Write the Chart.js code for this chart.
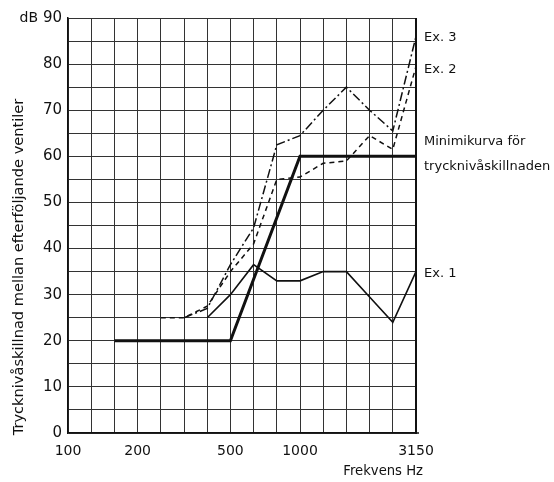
<!DOCTYPE html>
<html>
<head>
<meta charset="utf-8">
<script src="https://cdn.jsdelivr.net/npm/chart.js@4/dist/chart.umd.min.js"></script>
<style>
  html, body { margin: 0; padding: 0; background: #fff; }
  #wrap { width: 554px; height: 482px; position: relative; }
</style>
</head>
<body>
<div id="wrap"><canvas id="c" width="554" height="482"></canvas></div>
<script>
// Third-octave band centre frequencies (Hz)
const bands = ['100','125','160','200','250','315','400','500','630','800','1000','1250','1600','2000','2500','3150'];
// Bands that carry a printed frequency label
const labelledBands = ['100','200','500','1000','3150'];

// Pressure level difference between successive valves (dB)
const minimumCurve = [null, null, 20, 20, 20, 20, 20, 20, null, null, 60, 60, 60, 60, 60, 60];
const example1 = [null, null, null, null, null, null, 25, 30, 36.5, 33, 33, 35, 35, 29.5, 24, 35];
const example2 = [null, null, null, null, 25, 25, 27.5, 35, 41, 55, 55.5, 58.5, 59, 64.5, 61.5, 79.5];
const example3 = [null, null, null, null, null, 25, 27, 36.5, 44.5, 62.5, 64.5, 70, 75, 70, 65.5, 86];

// Y axis: grid every 5 dB, numbers every 10 dB
const yMin = 0, yMax = 90, yGridStep = 5, yLabelStep = 10;

const FONT = 'DejaVu Sans';
const INK = '#111';

const annotations = {
  id: 'annotations',
  afterDraw(chart) {
    const { ctx, chartArea: a } = chart;
    ctx.save();
    // heavier right-hand frame
    ctx.strokeStyle = INK;
    ctx.lineWidth = 2;
    ctx.beginPath();
    ctx.moveTo(a.right, a.top);
    ctx.lineTo(a.right, a.bottom + 1);
    ctx.stroke();
    // bottom rule runs slightly past the frame
    ctx.lineWidth = 1.5;
    ctx.beginPath();
    ctx.moveTo(a.right, a.bottom);
    ctx.lineTo(a.right + 3, a.bottom);
    ctx.stroke();

    ctx.fillStyle = INK;
    ctx.textBaseline = 'middle';
    ctx.font = '14px "' + FONT + '"';
    ctx.textAlign = 'right';
    ctx.fillText('dB', 38, a.top);

    ctx.font = '13.2px "' + FONT + '"';
    ctx.textAlign = 'right';
    ctx.fillText('Frekvens Hz', 423, 472);

    // curve names at the right edge
    ctx.font = '13px "' + FONT + '"';
    ctx.textAlign = 'left';
    const x = a.right + 8;
    ctx.fillText('Ex. 3', x, 38);
    ctx.fillText('Ex. 2', x, 70);
    ctx.fillText('Minimikurva för', x, 142);
    ctx.fillText('trycknivåskillnaden', x, 167);
    ctx.fillText('Ex. 1', x, 274);

    // vertical axis title
    ctx.font = '14.6px "' + FONT + '"';
    ctx.translate(19, 267);
    ctx.rotate(-Math.PI / 2);
    ctx.textAlign = 'center';
    ctx.fillText('Trycknivåskillnad mellan efterföljande ventiler', 0, 0);
    ctx.restore();
  }
};

new Chart(document.getElementById('c'), {
  type: 'line',
  data: {
    labels: bands,
    datasets: [
      { label: 'Minimikurva', data: minimumCurve, borderColor: INK, borderWidth: 3, spanGaps: true },
      { label: 'Ex. 1', data: example1, borderColor: INK, borderWidth: 1.6 },
      { label: 'Ex. 2', data: example2, borderColor: INK, borderWidth: 1.5, borderDash: [5, 4] },
      { label: 'Ex. 3', data: example3, borderColor: INK, borderWidth: 1.5, borderDash: [9, 3, 2, 3] }
    ]
  },
  options: {
    responsive: false,
    animation: false,
    devicePixelRatio: 1,
    layout: { padding: { left: 0, right: 138, top: 18, bottom: 0 } },
    elements: { point: { radius: 0 }, line: { tension: 0, borderJoinStyle: 'miter' } },
    plugins: { legend: { display: false }, tooltip: { enabled: false } },
    scales: {
      x: {
        type: 'category',
        offset: false,
        grid: { color: '#333', lineWidth: 1, drawTicks: false },
        border: { color: INK, width: 1.5 },
        ticks: {
          autoSkip: false, maxRotation: 0, padding: 10, color: INK,
          font: { family: FONT, size: 14 },
          callback: function (v, i) { return labelledBands.includes(bands[i]) ? bands[i] : ''; }
        },
        afterFit(s) { s.height = 49; }
      },
      y: {
        min: yMin, max: yMax,
        grid: { color: '#333', lineWidth: 1, drawTicks: false },
        border: { color: INK, width: 1.5 },
        ticks: {
          stepSize: yGridStep, padding: 6, color: INK,
          font: { family: FONT, size: 15 },
          callback: v => (v % yLabelStep === 0 ? String(v) : '')
        },
        afterFit(s) { s.width = 68; }
      }
    }
  },
  plugins: [annotations]
});
</script>
</body>
</html>
